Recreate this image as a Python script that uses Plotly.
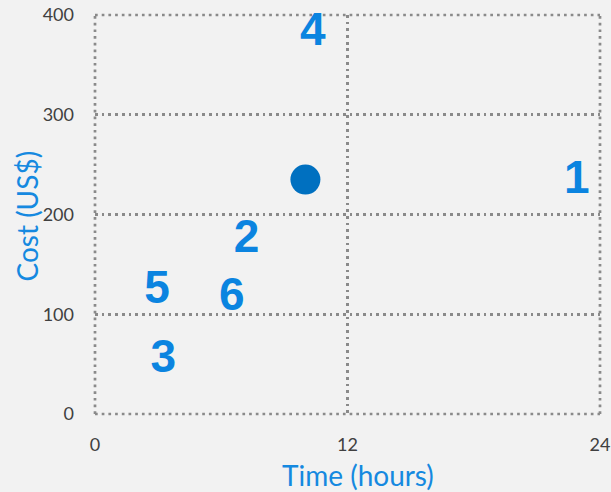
import plotly.graph_objects as go

# Data
labels = ["1", "2", "3", "4", "5", "6"]
label_time = [22.9, 7.2, 3.25, 10.35, 2.95, 6.5]
label_cost = [233, 174, 54, 381, 123, 116]

point_time = [10.0]
point_cost = [235]

x_ticks = [0, 12, 24]
y_ticks = [0, 100, 200, 300, 400]

BLUE_TXT = "#0B84E0"
BLUE_PT = "#0070C0"
GRID = "#8A8A8A"
BG = "#F2F2F2"
DASH = "2.7px,4px"

fig = go.Figure()
fig.add_trace(go.Scatter(
    x=label_time, y=label_cost, mode="text", text=labels,
    textfont=dict(family="Liberation Sans Narrow, Arial Narrow, Liberation Sans, sans-serif",
                  size=46, color=BLUE_TXT, weight="bold"),
    cliponaxis=False, showlegend=False, hoverinfo="skip"))
fig.add_trace(go.Scatter(
    x=point_time, y=point_cost, mode="markers",
    marker=dict(size=30, color=BLUE_PT, line=dict(width=0)),
    cliponaxis=False, showlegend=False))

axis_common = dict(showgrid=True, gridcolor=GRID, gridwidth=2.7, griddash=DASH,
                   zeroline=False, showline=False, ticks="", automargin=False,
                   tickfont=dict(family="Lato, sans-serif", size=18, color="#404040"))

fig.update_xaxes(range=[0, 24], tickvals=x_ticks, ticktext=[str(v) for v in x_ticks],
                 ticklabelstandoff=18, **axis_common)
fig.update_yaxes(range=[0, 400], tickvals=y_ticks, ticktext=[str(v) for v in y_ticks],
                 ticklabelstandoff=20, **axis_common)

# dotted frame around the plot area (edge gridlines)
frame = dict(type="line", xref="paper", yref="paper", layer="below",
             line=dict(color=GRID, width=2.7, dash=DASH))
fig.add_shape(x0=0, x1=1, y0=0, y1=0, **frame)
fig.add_shape(x0=0, x1=1, y0=1, y1=1, **frame)
fig.add_shape(x0=0, x1=0, y0=0, y1=1, **frame)
fig.add_shape(x0=1, x1=1, y0=0, y1=1, **frame)

fig.add_annotation(text="Time (hours)", xref="paper", yref="paper", x=0.52, y=0,
                   yshift=-61, xanchor="center", yanchor="middle", showarrow=False,
                   font=dict(family="Lato, sans-serif", size=28, color="#1589E0"))
fig.add_annotation(text="Cost (US$)", xref="paper", yref="paper", x=0, y=0.495,
                   xshift=-68, xanchor="center", yanchor="middle", showarrow=False,
                   textangle=-90,
                   font=dict(family="Lato, sans-serif", size=28, color="#1589E0"))

fig.update_layout(width=611, height=492, paper_bgcolor=BG, plot_bgcolor=BG,
                  margin=dict(l=95, r=11, t=15, b=78, autoexpand=False),
                  showlegend=False)

fig.write_html("out.html")
